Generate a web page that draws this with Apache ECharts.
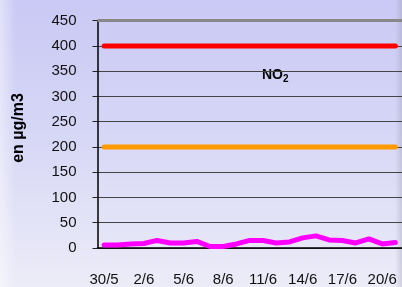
<!DOCTYPE html>
<html>
<head>
<meta charset="utf-8">
<script src="https://cdn.jsdelivr.net/npm/echarts@6/dist/echarts.min.js"></script>
<style>
  html, body { margin: 0; padding: 0; }
  #chart {
    width: 402px;
    height: 287px;
    background:
      linear-gradient(to left, rgba(150,150,175,0.35) 0, rgba(150,150,175,0) 7px),
      linear-gradient(to right, rgba(255,255,255,0.45) 0, rgba(255,255,255,0) 16px),
      linear-gradient(to bottom, #c9c9f5 0%, #d6d6f6 45%, #ececf8 100%);
  }
</style>
</head>
<body>
<div id="chart"></div>
<script>
// jours du 30/5 au 21/6
const days = [
  "30/5", "31/5", "1/6", "2/6", "3/6", "4/6", "5/6", "6/6", "7/6", "8/6",
  "9/6", "10/6", "11/6", "12/6", "13/6", "14/6", "15/6", "16/6", "17/6",
  "18/6", "19/6", "20/6", "21/6"
];
// mesures NO2 (µg/m3)
const no2 = [6, 6, 8, 9, 15, 10, 10, 13, 3, 3, 8, 15, 15, 10, 12, 20, 24, 16, 15, 10, 18, 8, 11];
// seuils
const seuil400 = [400, 400, 400, 400, 400, 400, 400, 400, 400, 400, 400, 400, 400, 400, 400, 400, 400, 400, 400, 400, 400, 400, 400];
const seuil200 = [200, 200, 200, 200, 200, 200, 200, 200, 200, 200, 200, 200, 200, 200, 200, 200, 200, 200, 200, 200, 200, 200, 200];
const yMin = 0, yMax = 450, yStep = 50;

const font = "'Liberation Sans', Arial, sans-serif";
const chart = echarts.init(document.getElementById("chart"), null, { renderer: "canvas" });

function lineSerie(name, data, color) {
  return {
    name: name,
    type: "line",
    data: data,
    symbol: "none",
    animation: false,
    z: 3,
    lineStyle: { color: color, width: 5, cap: "round", join: "round" }
  };
}

const topBorder = lineSerie("cadre", [], "#888");
topBorder.z = 1;
topBorder.markLine = {
  silent: true,
  symbol: "none",
  label: { show: false },
  lineStyle: { color: "#888", width: 3, type: "solid" },
  data: [{ yAxis: yMax }]
};

chart.setOption({
  backgroundColor: "transparent",
  grid: { left: 97.5, top: 20.7, width: 308, height: 227.5 },
  xAxis: {
    type: "category",
    data: days,
    boundaryGap: true,
    axisLine: { lineStyle: { color: "#000", width: 1.5 } },
    axisTick: { interval: 2, length: 5, lineStyle: { color: "#222" } },
    axisLabel: { interval: 2, margin: 24, fontSize: 15, color: "#111", fontFamily: font }
  },
  yAxis: {
    type: "value",
    min: yMin,
    max: yMax,
    interval: yStep,
    axisLine: { show: true, lineStyle: { color: "#000", width: 1.5 } },
    axisTick: { show: true, length: 5, lineStyle: { color: "#222" } },
    axisLabel: { margin: 21, fontSize: 15, color: "#111", fontFamily: font },
    splitLine: { lineStyle: { color: "#444", width: 1 } }
  },
  series: [
    topBorder,
    lineSerie("400", seuil400, "#ff0000"),
    lineSerie("200", seuil200, "#ff9900"),
    lineSerie("NO2", no2, "#ff00ff")
  ],
  graphic: [
    {
      type: "text",
      left: 262,
      top: 68,
      style: {
        text: "{a|NO}{s|2}",
        rich: {
          a: { fontSize: 14, fontWeight: "bold", fill: "#000", fontFamily: font },
          s: { fontSize: 10, fontWeight: "bold", fill: "#000", fontFamily: font, padding: [8, 0, 0, 0] }
        }
      }
    },
    {
      type: "text",
      x: 19,
      y: 128,
      rotation: Math.PI / 2,
      style: {
        text: "en µg/m3",
        fontSize: 16,
        fontWeight: "bold",
        fill: "#000",
        fontFamily: font,
        align: "center",
        verticalAlign: "middle"
      }
    }
  ]
});
</script>
</body>
</html>
